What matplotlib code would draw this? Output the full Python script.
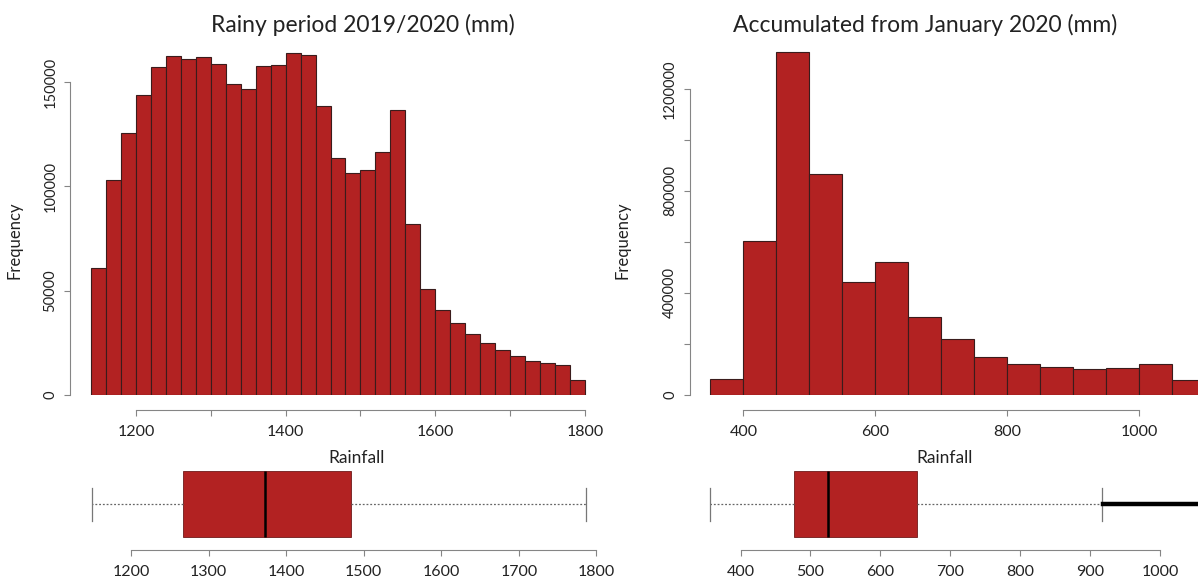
import numpy as np
import matplotlib
matplotlib.use("Agg")
import matplotlib.pyplot as plt

plt.rcParams['font.family'] = ['Lato', 'DejaVu Sans']

# Data
rainy_breaks = np.arange(1140, 1801, 20)
rainy_counts = [61000, 102900, 125700, 143900, 157000, 162500, 160900, 161800,
                158800, 149200, 146600, 157700, 158100, 163900, 162900, 138300,
                113400, 106500, 108000, 116600, 136400, 81900, 50600, 40900,
                34300, 29200, 25100, 21600, 18500, 16500, 15200, 14200, 7300]

jan_breaks = np.arange(350, 1101, 50)
jan_counts = [64100, 604500, 1345100, 864900, 443600, 523400, 307500, 218500,
              150500, 120400, 108600, 102100, 106000, 121700, 60200]

rainy_box = dict(whislo=1149, q1=1267, med=1373, q3=1483, whishi=1787, fliers=[])
jan_box = dict(whislo=357, q1=476, med=525, q3=652, whishi=917, fliers=[918, 1105])

rainy_hist_ticks = [1200, 1300, 1400, 1500, 1600, 1700, 1800]
rainy_hist_labels = ['1200', '', '1400', '', '1600', '', '1800']
rainy_y_ticks = [0, 50000, 100000, 150000]
jan_hist_ticks = [400, 600, 800, 1000]
jan_y_ticks = [0, 200000, 400000, 600000, 800000, 1000000, 1200000]
jan_y_labels = ['0', '', '400000', '', '800000', '', '1200000']
rainy_box_ticks = [1200, 1300, 1400, 1500, 1600, 1700, 1800]
jan_box_ticks = [400, 500, 600, 700, 800, 900, 1000]

BAR = '#b22222'
EDGE = '#3a1c1c'
AXC = '#858585'
TXT = '#222222'

W, H = 1198, 584
fig = plt.figure(figsize=(W / 100, H / 100), dpi=100)


def px_axes(left, top, right, bottom):
    return fig.add_axes([left / W, 1 - bottom / H, (right - left) / W, (bottom - top) / H])


def r_style(ax, xb, yb=None, xout=10.8, yout=10):
    for s in ['top', 'right']:
        ax.spines[s].set_visible(False)
    ax.spines['bottom'].set_position(('outward', xout))
    ax.spines['bottom'].set_bounds(*xb)
    ax.spines['bottom'].set_color(AXC)
    if yb is None:
        ax.spines['left'].set_visible(False)
        ax.set_yticks([])
    else:
        ax.spines['left'].set_position(('outward', yout))
        ax.spines['left'].set_bounds(*yb)
        ax.spines['left'].set_color(AXC)
    ax.tick_params(colors=AXC, labelcolor=TXT, length=4, width=0.8)
    ax.tick_params(axis='x', pad=7, labelsize=11.5)
    ax.tick_params(axis='y', labelrotation=90, pad=5, labelsize=10.5)
    ax.patch.set_alpha(0)


def hist(ax, breaks, counts):
    ax.bar(breaks[:-1], counts, width=np.diff(breaks), align='edge',
           color=BAR, edgecolor=EDGE, linewidth=0.8)


def box(ax, stats):
    parts = ax.bxp([stats], positions=[0.5], widths=1.0, vert=False, patch_artist=True,
                   showfliers=True, capwidths=0.5,
                   boxprops=dict(facecolor=BAR, edgecolor='#6e1a1a', linewidth=0.6),
                   medianprops=dict(color='black', linewidth=1.8),
                   whiskerprops=dict(color='#666666', linewidth=0.9, linestyle=(0, (1.5, 1.5))),
                   capprops=dict(color='#777777', linewidth=0.9),
                   flierprops=dict(marker='', linestyle='-', color='black', linewidth=3.2))
    for k in parts:
        for a in parts[k]:
            a.set_clip_on(False)
    ax.set_ylim(0, 1)


# left histogram
ax1 = px_axes(83.5, 40.3, 592.5, 395)
hist(ax1, rainy_breaks, rainy_counts)
ax1.set_xlim(1130, 1810)
ax1.set_ylim(0, 170000)
r_style(ax1, (1200, 1800), (0, 150000), yout=9.7)
ax1.set_xticks(rainy_hist_ticks, rainy_hist_labels)
ax1.set_yticks(rainy_y_ticks, [str(v) for v in rainy_y_ticks], va='center')

# right histogram
ax2 = px_axes(703.8, 38, 1211.6, 395)
hist(ax2, jan_breaks, jan_counts)
ax2.set_xlim(340, 1110)
ax2.set_ylim(0, 1400000)
r_style(ax2, (400, 1000), (0, 1200000), yout=10.2)
ax2.set_xticks(jan_hist_ticks, [str(v) for v in jan_hist_ticks])
ax2.set_yticks(jan_y_ticks, jan_y_labels, va='center')

# boxplots
ax3 = px_axes(77.0, 471, 604.1, 537)
box(ax3, rainy_box)
ax3.set_xlim(1130, 1810)
r_style(ax3, (1200, 1800), xout=9.4)
ax3.set_xticks(rainy_box_ticks, [str(v) for v in rainy_box_ticks])

ax4 = px_axes(698.6, 471, 1236.8, 537)
box(ax4, jan_box)
ax4.set_xlim(340, 1110)
r_style(ax4, (400, 1000), xout=9.4)
ax4.set_xticks(jan_box_ticks, [str(v) for v in jan_box_ticks])

# titles and labels
fig.text(362.6 / W, 1 - 25 / H, 'Rainy period 2019/2020 (mm)', ha='center', va='center',
         fontsize=16.5, color=TXT)
fig.text(925 / W, 1 - 25 / H, 'Accumulated from January 2020 (mm)', ha='center', va='center',
         fontsize=16.5, color=TXT)
fig.text(357 / W, 1 - 458 / H, 'Rainfall', ha='center', va='center', fontsize=12.5, color=TXT)
fig.text(945 / W, 1 - 458 / H, 'Rainfall', ha='center', va='center', fontsize=12.5, color=TXT)
fig.text(14 / W, 1 - 240 / H, 'Frequency', ha='center', va='center', rotation=90,
         fontsize=12, color=TXT)
fig.text(623 / W, 1 - 240 / H, 'Frequency', ha='center', va='center', rotation=90,
         fontsize=12, color=TXT)

fig.savefig('out.png', dpi=100)
